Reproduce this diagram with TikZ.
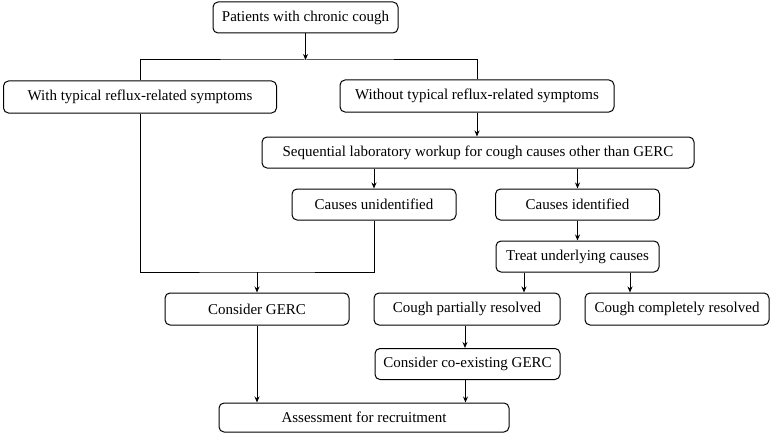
\documentclass[tikz,border=0pt]{standalone}
\usepackage{fontspec}
\setmainfont{Liberation Serif}
\usetikzlibrary{arrows.meta}
\begin{document}
\begin{tikzpicture}[x=1pt,y=-1pt,
  box/.style={draw=black,line width=1pt,rounded corners=5pt,inner sep=0pt,
    font=\fontsize{15}{17}\selectfont,text=black,anchor=center},
  conn/.style={draw=black,line width=1pt},
  arr/.style={conn,-{Stealth[length=6pt,width=5pt]}}]
\useasboundingbox (0,0) rectangle (774,436);
\fill[white] (0,0) rectangle (774,436);
\node[box,minimum width=185pt,minimum height=31pt] (top) at (305.5,17.5) {Patients with chronic cough};
\node[box,minimum width=273pt,minimum height=32pt] (with) at (140,97) {With typical reflux-related symptoms};
\node[box,minimum width=274pt,minimum height=32pt] (without) at (477,96) {Without typical reflux-related symptoms};
\node[box,minimum width=432pt,minimum height=31pt] (seq) at (478,152.5) {Sequential laboratory workup for cough causes other than GERC};
\node[box,minimum width=164pt,minimum height=31pt] (unid) at (374,204.5) {Causes unidentified};
\node[box,minimum width=164pt,minimum height=31pt] (ident) at (577.5,204.5) {Causes identified};
\node[box,minimum width=163pt,minimum height=31pt] (treat) at (577.5,256.5) {Treat underlying causes};
\node[box,minimum width=184pt,minimum height=32pt] (gerc) at (257,309) {Consider GERC};
\node[box,minimum width=186pt,minimum height=32pt] (partial) at (467,309) {Cough partially resolved};
\node[box,minimum width=184pt,minimum height=32pt] (complete) at (677,309) {Cough completely resolved};
\node[box,minimum width=185pt,minimum height=31pt] (coexist) at (467.5,364) {Consider co-existing GERC};
\node[box,minimum width=290pt,minimum height=29pt] (assess) at (364,417.5) {Assessment for recruitment};
\coordinate (j1) at (305.5,60);
\coordinate (j2) at (257,272);
\draw[arr] (top.south) -- (j1);
\draw[conn] (with.north) |- (j1) -| (without.north);
\draw[arr] (without.south) -- (without.south |- seq.north);
\draw[arr] (seq.south -| unid.south) -- (unid.north);
\draw[arr] (seq.south -| ident.north) -- (ident.north);
\draw[arr] (ident.south) -- (treat.north);
\draw[conn] (with.south) |- (j2) -| (unid.south);
\draw[arr] (j2) -- (gerc.north);
\draw[arr] ([xshift=-53.5pt]treat.south) -- ([xshift=-53.5pt]treat.south |- partial.north);
\draw[arr] ([xshift=52.5pt]treat.south) -- ([xshift=52.5pt]treat.south |- complete.north);
\draw[arr] ([xshift=-2pt]partial.south) -- ([xshift=-2pt]partial.south |- coexist.north);
\draw[arr] (gerc.south) -- (gerc.south |- assess.north);
\draw[arr] ([xshift=-2pt]coexist.south) -- ([xshift=-2pt]coexist.south |- assess.north);
\end{tikzpicture}
\end{document}
